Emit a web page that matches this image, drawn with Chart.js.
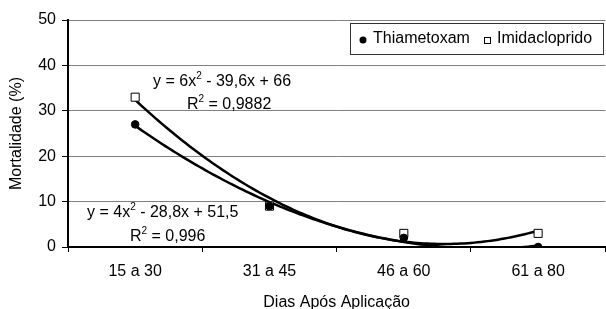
<!DOCTYPE html>
<html>
<head>
<meta charset="utf-8">
<script src="https://cdn.jsdelivr.net/npm/chart.js@4"></script>
<style>
  html, body { margin: 0; padding: 0; background: #fff; overflow: hidden; }
  #wrap { width: 612px; height: 309px; }
</style>
</head>
<body>
<div id="wrap"><canvas id="chart" width="612" height="309"></canvas></div>
<script>
// dados
const categorias = ['15 a 30', '31 a 45', '46 a 60', '61 a 80'];
const thiametoxam = [27, 9, 2, 0];
const imidacloprido = [33, 9, 3, 3];
const yTicks = [0, 10, 20, 30, 40, 50];

// coeficientes das linhas de tendência (a, b, c) -> a*x^2 + b*x + c
const coefThia = [4, -28.8, 51.5];
const coefImid = [6, -39.6, 66];

const FONT = 'Arial, "Liberation Sans", sans-serif';

// desenha as linhas de tendência polinomiais
const trendPlugin = {
    id: 'trend',
    beforeDatasetsDraw(chart) {
        const ctx = chart.ctx;
        const xs = chart.scales.x;
        const ys = chart.scales.y;
        const area = chart.chartArea;
        ctx.save();
        ctx.beginPath();
        ctx.rect(area.left, area.top - 2, area.right - area.left, area.bottom - area.top + 2);
        ctx.clip();
        [coefThia, coefImid].forEach(c => {
            ctx.beginPath();
            for (let i = 0; i <= 120; i++) {
                const x = 1 + 3 * i / 120;
                const y = c[0] * x * x + c[1] * x + c[2];
                const px = xs.getPixelForValue(x - 1);
                const py = ys.getPixelForValue(y);
                if (i === 0) ctx.moveTo(px, py); else ctx.lineTo(px, py);
            }
            ctx.strokeStyle = '#000';
            ctx.lineWidth = 2.5;
            ctx.stroke();
        });
        ctx.restore();
    }
};

// equações, R² e legenda
const textPlugin = {
    id: 'texts',
    afterDraw(chart) {
        const ctx = chart.ctx;
        ctx.save();
        ctx.fillStyle = '#000';
        ctx.textBaseline = 'middle';

        function sup(parts, x, y) {
            parts.forEach(p => {
                if (p.s) {
                    ctx.font = '10px ' + FONT;
                    ctx.fillText(p.t, x, y - 6);
                } else {
                    ctx.font = '16px ' + FONT;
                    ctx.fillText(p.t, x, y);
                }
                x += ctx.measureText(p.t).width;
            });
        }
        sup([{t: 'y = 6x'}, {t: '2', s: true}, {t: ' - 39,6x + 66'}], 153, 82);
        sup([{t: 'R'}, {t: '2', s: true}, {t: ' = 0,9882'}], 187, 105);
        sup([{t: 'y = 4x'}, {t: '2', s: true}, {t: ' - 28,8x + 51,5'}], 87, 213);
        sup([{t: 'R'}, {t: '2', s: true}, {t: ' = 0,996'}], 130, 237);

        // legenda
        ctx.fillStyle = '#fff';
        ctx.fillRect(350.5, 23.5, 253, 31);
        ctx.strokeStyle = '#333';
        ctx.lineWidth = 1;
        ctx.strokeRect(350.5, 23.5, 253, 31);
        ctx.fillStyle = '#000';
        ctx.beginPath();
        ctx.arc(363, 40, 3.5, 0, Math.PI * 2);
        ctx.fill();
        ctx.font = '16px ' + FONT;
        ctx.fillText('Thiametoxam', 373, 39);
        ctx.fillStyle = '#fff';
        ctx.fillRect(484.5, 37.5, 6, 6);
        ctx.strokeStyle = '#000';
        ctx.strokeRect(484.5, 37.5, 6, 6);
        ctx.fillStyle = '#000';
        ctx.fillText('Imidacloprido', 497, 39);
        ctx.restore();
    }
};

const chart = new Chart(document.getElementById('chart').getContext('2d'), {
    type: 'line',
    data: {
        labels: categorias,
        datasets: [
            {
                label: 'Thiametoxam',
                data: thiametoxam,
                showLine: false,
                pointStyle: 'circle',
                pointRadius: 3.8,
                pointBackgroundColor: '#000',
                pointBorderColor: '#000',
                pointBorderWidth: 1
            },
            {
                label: 'Imidacloprido',
                data: imidacloprido,
                showLine: false,
                pointStyle: 'rect',
                pointRadius: 5.7,
                pointBackgroundColor: '#fff',
                pointBorderColor: '#000',
                pointBorderWidth: 1
            }
        ]
    },
    options: {
        responsive: false,
        animation: false,
        layout: { padding: { top: 20, right: 0, left: 0, bottom: 0 } },
        plugins: {
            legend: { display: false },
            tooltip: { enabled: false }
        },
        scales: {
            x: {
                type: 'category',
                offset: true,
                afterFit: s => { s.height = 62; },
                grid: {
                    offset: true,
                    drawOnChartArea: false,
                    drawTicks: true,
                    tickLength: 5,
                    tickColor: '#000',
                    lineWidth: 1
                },
                border: { color: '#000', width: 2 },
                ticks: {
                    color: '#000',
                    padding: 10,
                    font: { family: FONT, size: 16 }
                },
                title: {
                    display: true,
                    text: 'Dias Após Aplicação',
                    color: '#000',
                    padding: { top: 0, bottom: 0 },
                    font: { family: FONT, size: 16, lineHeight: 0.85 }
                }
            },
            y: {
                min: 0,
                max: 50,
                afterFit: s => { s.width = 68; },
                afterBuildTicks: s => { s.ticks = yTicks.map(v => ({ value: v })); },
                grid: {
                    color: '#808080',
                    lineWidth: 1,
                    drawTicks: true,
                    tickLength: 6,
                    tickColor: '#000'
                },
                border: { color: '#000', width: 2 },
                ticks: {
                    color: '#000',
                    padding: 6,
                    font: { family: FONT, size: 16 }
                },
                title: {
                    display: true,
                    text: 'Mortalidade (%)',
                    color: '#000',
                    padding: { top: 9, bottom: 0 },
                    font: { family: FONT, size: 16, lineHeight: 1 }
                }
            }
        }
    },
    plugins: [trendPlugin, textPlugin]
});
</script>
</body>
</html>
